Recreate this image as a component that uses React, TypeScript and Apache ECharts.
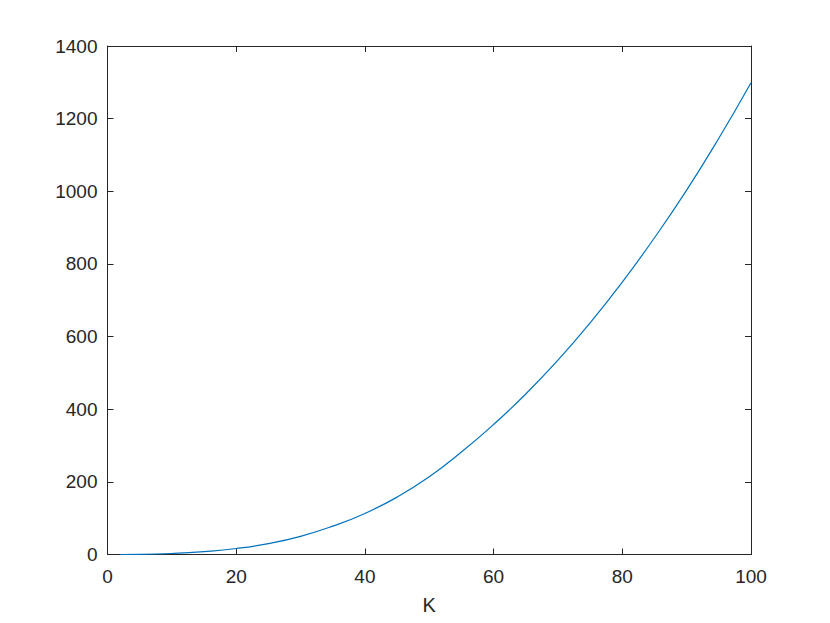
import React, { useEffect, useRef } from "react";
import * as echarts from "echarts";

const kValues = [2, 5, 10, 15, 20, 25, 30, 35, 40, 45, 50, 55, 60, 65, 70, 75, 80, 85, 90, 95, 100];
const yValues = [0, 0.3, 2.7, 8, 16.5, 30, 50, 78, 113, 158, 214, 282, 358, 442, 535, 638, 750, 872, 1003, 1146, 1299];
const xTicks = { min: 0, max: 100, interval: 20 };
const yTicks = { min: 0, max: 1400, interval: 200 };
const xLabel = "K";

export default function App() {
  const ref = useRef<HTMLDivElement>(null);
  useEffect(() => {
    const chart = echarts.init(ref.current!, null, { renderer: "svg" });
    const axisColor = "#262626";
    const font = "'Liberation Sans', Arial, Helvetica, sans-serif";
    const common = {
      axisLine: { show: true, onZero: false, lineStyle: { color: axisColor, width: 1 } },
      axisTick: { show: true, inside: true, length: 6, lineStyle: { color: axisColor } },
      splitLine: { show: false },
    };
    const fmt = (v: number) => String(v);
    chart.setOption({
      animation: false,
      backgroundColor: "#ffffff",
      grid: { left: 107.5, right: 79, top: 46, bottom: 68.5, containLabel: false },
      xAxis: [
        {
          type: "value",
          ...xTicks,
          position: "bottom",
          ...common,
          axisLabel: { color: axisColor, fontSize: 19, fontFamily: font, margin: 12, formatter: fmt },
          name: xLabel,
          nameLocation: "middle",
          nameGap: 40,
          nameTextStyle: { color: axisColor, fontSize: 20, fontFamily: font },
        },
        {
          type: "value",
          ...xTicks,
          position: "top",
          ...common,
          axisLabel: { show: false },
        },
      ],
      yAxis: [
        {
          type: "value",
          ...yTicks,
          position: "left",
          ...common,
          axisLabel: { color: axisColor, fontSize: 19, fontFamily: font, margin: 10, formatter: fmt },
        },
        {
          type: "value",
          ...yTicks,
          position: "right",
          ...common,
          axisLabel: { show: false },
        },
      ],
      series: [
        {
          type: "line",
          data: kValues.map((k, i) => [k, yValues[i]]),
          smooth: true,
          symbol: "none",
          lineStyle: { color: "#0072BD", width: 1.2 },
          xAxisIndex: 0,
          yAxisIndex: 0,
        },
      ],
    });
    return () => chart.dispose();
  }, []);
  return (
    <div
      ref={ref}
      style={{ position: "fixed", left: 0, top: 0, width: 830, height: 623, background: "#fff" }}
    />
  );
}
